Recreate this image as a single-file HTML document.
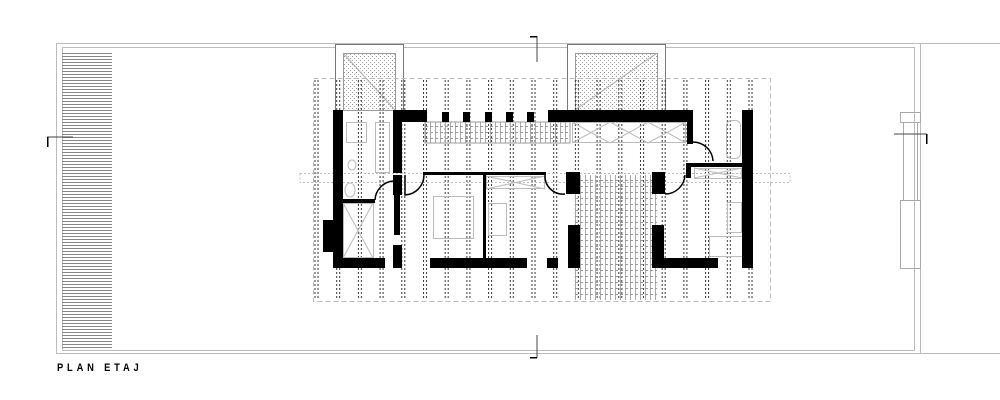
<!DOCTYPE html>
<html><head><meta charset="utf-8"><style>
html,body{margin:0;padding:0;background:#fff;width:1000px;height:400px;overflow:hidden}
svg{display:block}
</style></head><body>
<svg width="1000" height="400" viewBox="0 0 1000 400" xmlns="http://www.w3.org/2000/svg">
<defs>
<pattern id="cols" patternUnits="userSpaceOnUse" x="313" y="80" width="21.7" height="4">
<rect x="1.5" y="0" width="1" height="2" fill="#333"/>
<rect x="4.5" y="0" width="1" height="2" fill="#333"/>
</pattern>
<pattern id="hatch" patternUnits="userSpaceOnUse" x="0" y="53" width="10" height="3">
<rect x="0" y="0" width="10" height="1" fill="#888"/>
</pattern>
<pattern id="speck" patternUnits="userSpaceOnUse" width="4" height="4">
<rect x="0" y="0" width="1" height="1" fill="#999"/>
<rect x="2" y="2" width="1" height="1" fill="#aaa"/>
</pattern>
<pattern id="stair" patternUnits="userSpaceOnUse" width="5" height="6">
<rect x="0" y="0" width="1" height="6" fill="#aaa"/>
<rect x="0" y="0" width="3" height="1" fill="#999"/>
</pattern>
</defs>

<line x1="56" y1="43.5" x2="1000" y2="43.5" stroke="#bbb" stroke-width="1"/>
<line x1="56" y1="353.5" x2="1000" y2="353.5" stroke="#bbb" stroke-width="1"/>
<line x1="56.5" y1="43" x2="56.5" y2="354" stroke="#bbb"/>
<rect x="62.5" y="47.5" width="852" height="303" fill="none" stroke="#bbb"/>
<line x1="920.5" y1="43" x2="920.5" y2="354" stroke="#bbb"/>
<rect x="62" y="53" width="50" height="295" fill="url(#hatch)"/>
<rect x="900.5" y="112.5" width="20" height="10" fill="none" stroke="#aaa"/>
<rect x="903.5" y="122.5" width="14" height="78" fill="none" stroke="#aaa"/>
<rect x="900.5" y="200.5" width="20" height="68" fill="none" stroke="#aaa"/>
<path d="M47 137 H73" stroke="#444" fill="none"/><rect x="47" y="137" width="1.5" height="10" fill="#000"/>
<path d="M894 134 H927" stroke="#444" fill="none"/><rect x="926" y="134" width="1.5" height="10" fill="#000"/>
<path d="M537 36 V62" stroke="#444"/><rect x="530" y="36" width="7" height="1.5" fill="#000"/>
<path d="M537 335 V358" stroke="#444"/><rect x="530" y="357" width="7" height="1.5" fill="#000"/>

<rect x="335.5" y="44.5" width="68" height="66" fill="#fff" stroke="#777"/>
<rect x="343.5" y="53.5" width="52" height="57" fill="url(#speck)" stroke="#999"/>
<line x1="343" y1="53" x2="395" y2="110" stroke="#aaa"/>
<rect x="567.5" y="44.5" width="98" height="66" fill="#fff" stroke="#777"/>
<rect x="575.5" y="53.5" width="82" height="57" fill="url(#speck)" stroke="#999"/>
<line x1="575" y1="110" x2="657" y2="53" stroke="#aaa"/>

<rect x="313.5" y="78.5" width="457" height="223" fill="none" stroke="#bbb" stroke-dasharray="5,3"/>
<rect x="313" y="80" width="457" height="220" fill="url(#cols)"/>
<rect x="765" y="80" width="5" height="220" fill="url(#cols)"/>
<rect x="300" y="173.5" width="490" height="9" fill="none" stroke="#bbb" stroke-dasharray="2,2"/>

<rect x="425" y="122" width="145" height="21" fill="url(#stair)" stroke="#999"/>
<rect x="573" y="175" width="84" height="125" fill="url(#stair)"/>
<g stroke="#bbb" fill="none">
<rect x="572.5" y="122.5" width="113" height="20"/>
<path d="M572 122 L610 143 M610 122 L572 143 M610 122 L648 143 M648 122 L610 143 M648 122 L686 143 M686 122 L648 143"/>
<rect x="343.5" y="203.5" width="30" height="54"/>
<path d="M343 203 L373 258 M373 203 L343 258"/>
<rect x="486.5" y="176.5" width="58" height="12"/>
<path d="M486 176 L545 189 M545 176 L486 189"/>
<rect x="694.5" y="168.5" width="47" height="10"/>
<path d="M694 168 L742 178 M742 168 L694 178"/>
<rect x="433.5" y="196.5" width="40" height="42"/>
<rect x="488.5" y="203.5" width="18" height="32"/>
<rect x="709.5" y="236.5" width="38" height="20"/>
<rect x="727.5" y="202.5" width="14" height="30"/>
<rect x="726.5" y="120.5" width="14" height="38" rx="5"/>
<rect x="346.5" y="122.5" width="20" height="20"/>
<ellipse cx="350" cy="190" rx="5" ry="7"/>
<ellipse cx="352" cy="165" rx="4" ry="5"/>
<rect x="375.5" y="122.5" width="14" height="50"/>
</g>

<g fill="#000">
<rect x="333" y="110" width="10" height="158"/>
<rect x="323" y="220" width="10" height="32"/>
<rect x="333" y="258" width="52" height="10"/>
<rect x="343" y="199" width="32" height="4"/>
<rect x="393" y="110" width="9" height="63"/>
<rect x="393" y="175" width="9" height="20"/>
<rect x="394" y="195" width="6" height="40"/>
<rect x="393" y="245" width="9" height="23"/>
<rect x="393" y="110" width="34" height="12"/>
<rect x="442" y="112" width="7" height="10"/>
<rect x="463" y="112" width="7" height="10"/>
<rect x="485" y="112" width="7" height="10"/>
<rect x="506" y="112" width="7" height="10"/>
<rect x="527" y="112" width="7" height="10"/>
<rect x="548" y="110" width="145" height="12"/>
<rect x="687" y="110" width="6" height="34"/>
<rect x="742" y="110" width="11" height="158"/>
<rect x="423" y="172" width="123" height="3"/>
<rect x="483" y="172" width="3" height="96"/>
<rect x="430" y="258" width="97" height="10"/>
<rect x="547" y="258" width="11" height="10"/>
<rect x="566" y="172" width="14" height="22"/>
<rect x="652" y="172" width="13" height="22"/>
<rect x="568" y="225" width="12" height="43"/>
<rect x="652" y="225" width="12" height="43"/>
<rect x="652" y="258" width="66" height="10"/>
<rect x="686" y="163" width="57" height="4"/>
<rect x="686" y="163" width="5" height="15"/>
</g>
<g stroke="#000" fill="none" stroke-width="1.5">
<path d="M375 200 A20 20 0 0 1 393 181"/>
<path d="M405 175 V195 A20 20 0 0 0 424 175"/>
<path d="M545 175 A18 18 0 0 0 565 194"/>
<path d="M665 194 A20 20 0 0 0 685 175"/>
<path d="M693 142 A20 20 0 0 1 713 161"/>
</g>

<text x="57" y="371" font-family="Liberation Sans, sans-serif" font-size="11" font-weight="bold" letter-spacing="4.5" fill="#000" transform="translate(57 0) scale(0.85 1) translate(-57 0)">PLAN ETAJ</text>
</svg>
</body></html>
